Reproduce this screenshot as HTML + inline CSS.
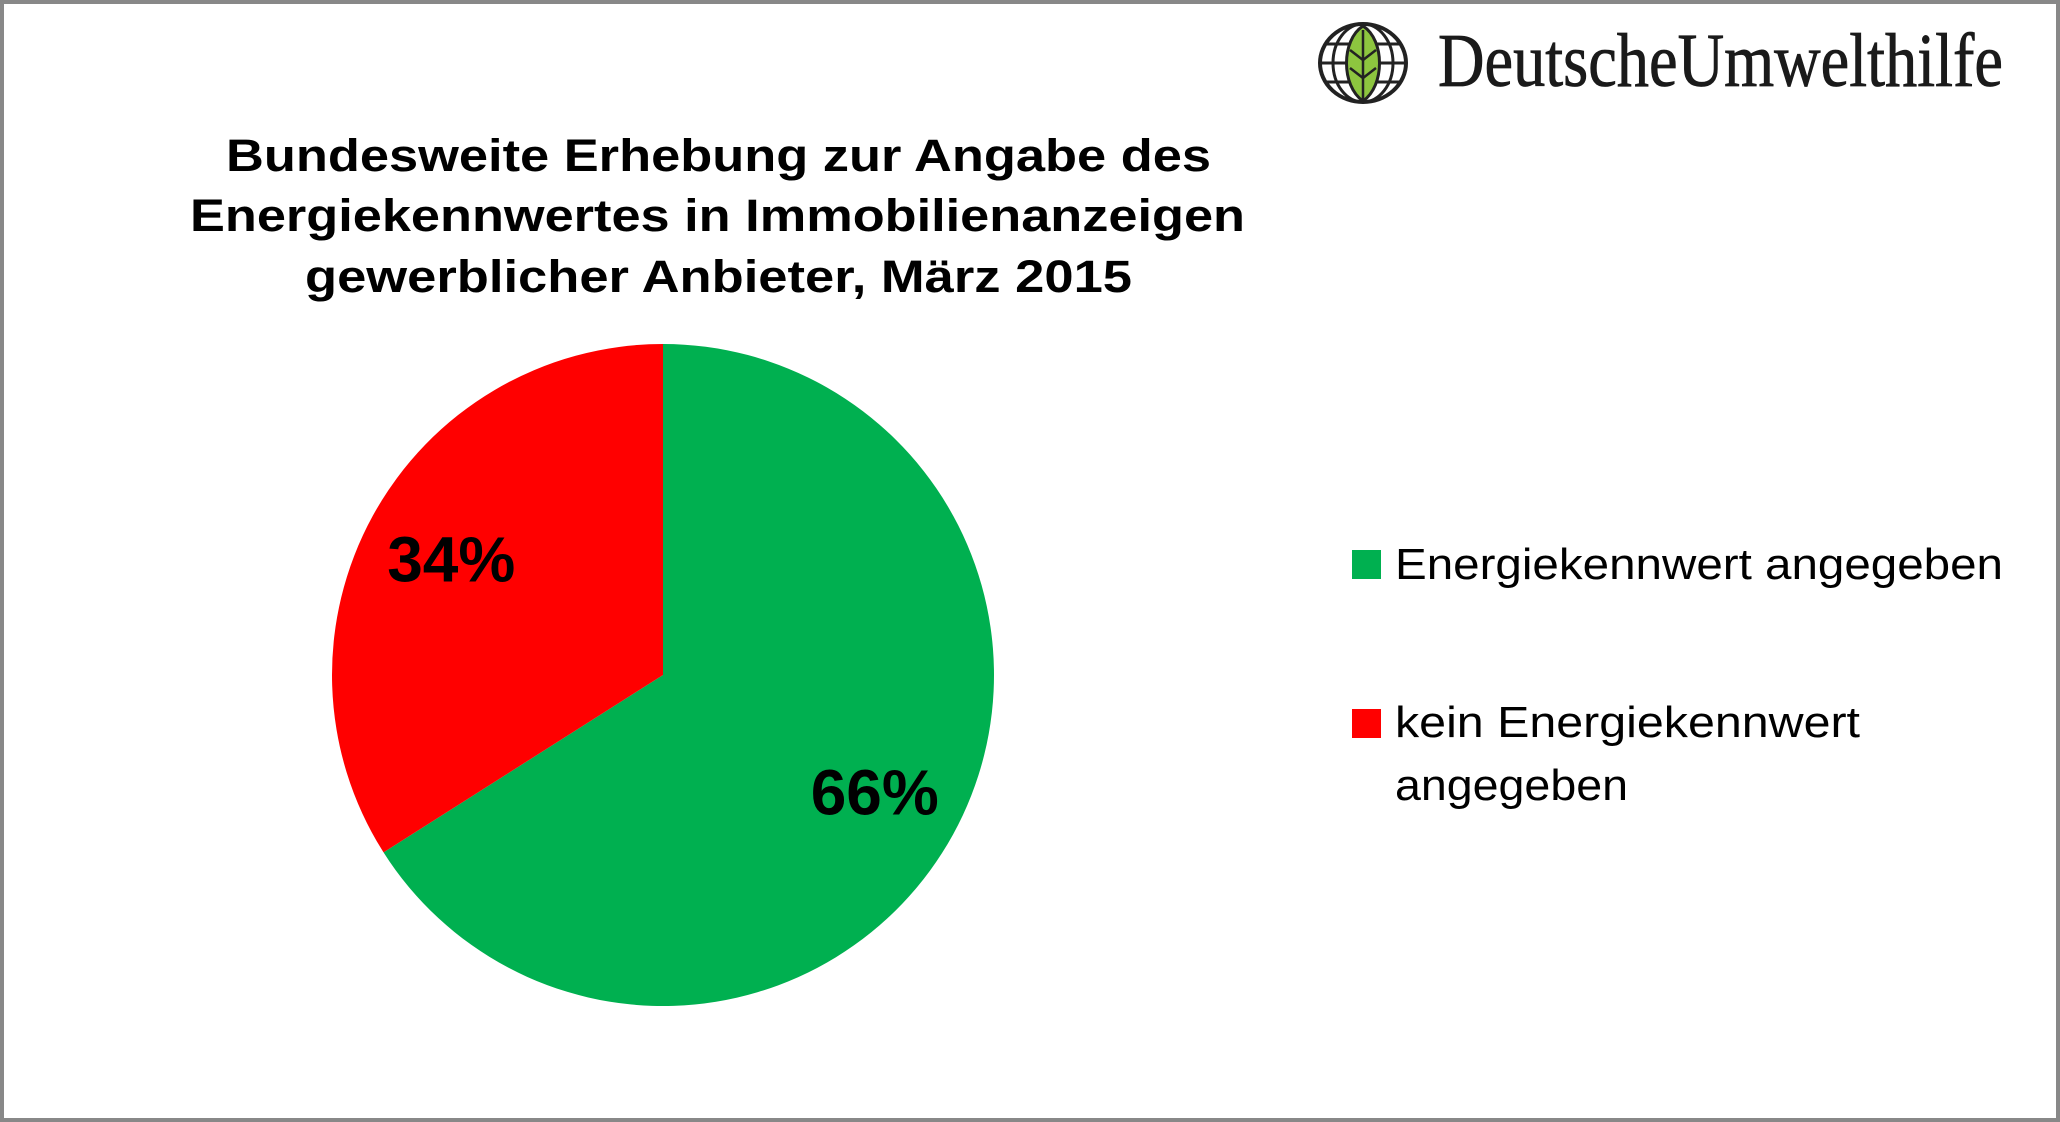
<!DOCTYPE html>
<html><head><meta charset="utf-8"><style>
html,body{margin:0;padding:0;background:#fff;}
svg{display:block;}
</style></head><body>
<svg width="2060" height="1122" viewBox="0 0 2060 1122" xmlns="http://www.w3.org/2000/svg">
<rect x="2" y="2" width="2056" height="1118" fill="#fff" stroke="#888" stroke-width="4"/>
<g>
  <defs><clipPath id="gc"><ellipse cx="1363" cy="63" rx="43" ry="39"/></clipPath></defs>
  <ellipse cx="1363" cy="63" rx="43" ry="39" fill="#fff" stroke="#222" stroke-width="4"/>
  <g clip-path="url(#gc)" stroke="#222" stroke-width="3" fill="none">
    <line x1="1318" y1="44" x2="1408" y2="44"/><line x1="1318" y1="63" x2="1408" y2="63"/><line x1="1318" y1="82" x2="1408" y2="82"/>
    <ellipse cx="1363" cy="63" rx="30" ry="39"/>
  </g>
  <path d="M1363 26 C1385 40 1385 86 1363 101 C1341 86 1341 40 1363 26 Z" fill="#8dc63f" stroke="#222" stroke-width="3"/>
  <g stroke="#222" stroke-width="2.5" fill="none"><line x1="1363" y1="30" x2="1363" y2="100"/><polyline points="1350,50 1363,60 1376,50"/><polyline points="1350,68 1363,78 1376,68"/></g>
  <text x="1438" y="86" font-family="Liberation Serif, serif" font-size="76" textLength="565" lengthAdjust="spacingAndGlyphs" fill="#1a1a1a" stroke="#1a1a1a" stroke-width="0.8">DeutscheUmwelthilfe</text>
</g>
<g font-family="Liberation Sans, sans-serif" font-weight="bold" font-size="45" fill="#000">
  <text x="226" y="171" textLength="985" lengthAdjust="spacingAndGlyphs">Bundesweite Erhebung zur Angabe des</text>
  <text x="190" y="231" textLength="1055" lengthAdjust="spacingAndGlyphs">Energiekennwertes in Immobilienanzeigen</text>
  <text x="305" y="292" textLength="827" lengthAdjust="spacingAndGlyphs">gewerblicher Anbieter, März 2015</text>
</g>
<g id="pie"></g>
<g>
  <g>
    <rect x="1352" y="550" width="29" height="29" fill="#00b050"/>
    <text x="1395" y="579" font-family="Liberation Sans, sans-serif" font-size="44" textLength="608" lengthAdjust="spacingAndGlyphs">Energiekennwert angegeben</text>
  </g>
  <g>
    <rect x="1352" y="709" width="29" height="29" fill="#ff0000"/>
    <text x="1395" y="737" font-family="Liberation Sans, sans-serif" font-size="44" textLength="465" lengthAdjust="spacingAndGlyphs">kein Energiekennwert</text>
    <text x="1395" y="800" font-family="Liberation Sans, sans-serif" font-size="44" textLength="233" lengthAdjust="spacingAndGlyphs">angegeben</text>
  </g>
</g>
<script>
const categories = ["Energiekennwert angegeben", "kein Energiekennwert angegeben"];
const values = [66, 34];
const labels = ["66%", "34%"];
const colors = ["#00b050", "#ff0000"];
(function(){
  const g = document.getElementById('pie');
  const ns = 'http://www.w3.org/2000/svg';
  const cx = 663, cy = 675, r = 331;
  const total = values.reduce((a,b)=>a+b,0);
  let a0 = 0;
  values.forEach((v,i)=>{
    const a1 = a0 + v/total*2*Math.PI;
    const p = (a)=>[cx + r*Math.sin(a), cy - r*Math.cos(a)];
    const [x0,y0] = p(a0), [x1,y1] = p(a1);
    const large = (a1-a0) > Math.PI ? 1 : 0;
    const path = document.createElementNS(ns,'path');
    path.setAttribute('d', `M${cx},${cy} L${x0},${y0} A${r},${r} 0 ${large} 1 ${x1},${y1} Z`);
    path.setAttribute('fill', colors[i]);
    
    
    g.appendChild(path);
    const mid = (a0+a1)/2;
    const lr = r*0.73;
    const t = document.createElementNS(ns,'text');
    t.setAttribute('x', cx + lr*Math.sin(mid));
    t.setAttribute('y', cy - lr*Math.cos(mid) + 23);
    t.setAttribute('text-anchor','middle');
    t.setAttribute('font-family','Liberation Sans, sans-serif');
    t.setAttribute('font-weight','bold');
    t.setAttribute('font-size','64');
    t.textContent = labels[i];
    
    
    g.appendChild(t);
    a0 = a1;
  });
})();
</script>
</svg>
</body></html>
